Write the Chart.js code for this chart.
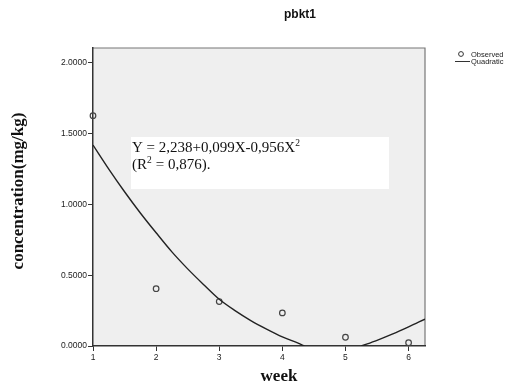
<!DOCTYPE html>
<html>
<head>
<meta charset="utf-8">
<script src="https://cdn.jsdelivr.net/npm/chart.js@4"></script>
<style>
  html, body { margin: 0; padding: 0; background: #fff; }
  #wrap { width: 509px; height: 387px; position: relative; }
</style>
</head>
<body>
<div id="wrap"><canvas id="chart" width="509" height="387"></canvas></div>
<script>
// Observed values (week, concentration mg/kg)
const weeks = [1, 2, 3, 4, 5, 6];
const observed = [1.628, 0.405, 0.314, 0.234, 0.062, 0.023];

// Quadratic curve (null where it dips below the axis)
const curveX = [1.0, 1.25, 1.5, 1.75, 2.0, 2.25, 2.5, 2.75, 3.0, 3.25, 3.5, 3.75, 4.0, 4.25, 4.35, 4.8, 5.25, 5.5, 5.75, 6.0, 6.26];
const curveY = [1.42, 1.25, 1.09, 0.94, 0.80, 0.665, 0.545, 0.435, 0.33, 0.25, 0.18, 0.12, 0.065, 0.02, 0.0, null, 0.0, 0.04, 0.085, 0.135, 0.19];

const yTicks = [0, 0.5, 1.0, 1.5, 2.0];
const xTicks = [1, 2, 3, 4, 5, 6];

const SERIF = '"Liberation Serif", "DejaVu Serif", serif';
const SANS = '"Liberation Sans", Arial, sans-serif';

function measure(ctx, font, txt) {
    const old = ctx.font;
    ctx.font = font;
    const w = ctx.measureText(txt).width;
    ctx.font = old;
    return w;
}

// Fond gris, cadre, titres, legende et encadre de l'equation
const decor = {
    id: 'decor',
    beforeDraw(chart) {
        const { ctx, chartArea: a } = chart;
        ctx.save();
        ctx.fillStyle = '#efefef';
        ctx.fillRect(a.left, a.top, a.right - a.left, a.bottom - a.top);
        ctx.strokeStyle = '#777';
        ctx.lineWidth = 1.2;
        ctx.beginPath();
        ctx.moveTo(a.left, a.top);
        ctx.lineTo(a.right, a.top);
        ctx.lineTo(a.right, a.bottom);
        ctx.stroke();
        // encadre blanc de l'equation
        ctx.fillStyle = '#fff';
        ctx.fillRect(131, 137, 258, 52);
        ctx.restore();
    },
    afterDraw(chart) {
        const { ctx } = chart;
        const eqFont = '15px ' + SERIF;
        const supFont = '9.5px ' + SERIF;
        ctx.save();
        ctx.fillStyle = '#111';
        // titre
        ctx.font = 'bold 12px ' + SANS;
        ctx.textAlign = 'center';
        ctx.textBaseline = 'middle';
        ctx.fillText('pbkt1', 300, 15);
        // titre axe x
        ctx.font = 'bold 17px ' + SERIF;
        ctx.fillText('week', 279, 377);
        // titre axe y
        ctx.save();
        ctx.translate(19, 191);
        ctx.rotate(-Math.PI / 2);
        ctx.font = 'bold 17px ' + SERIF;
        ctx.fillText('concentration(mg/kg)', 0, 0);
        ctx.restore();
        // equation
        ctx.textAlign = 'left';
        ctx.textBaseline = 'alphabetic';
        const x = 132;
        const l1 = 'Y = 2,238+0,099X-0,956X';
        ctx.font = eqFont;
        ctx.fillText(l1, x, 152);
        ctx.font = supFont;
        ctx.fillText('2', x + measure(ctx, eqFont, l1), 146);
        ctx.font = eqFont;
        ctx.fillText('(R', x, 169);
        const wR = measure(ctx, eqFont, '(R');
        ctx.font = supFont;
        ctx.fillText('2', x + wR, 163);
        ctx.font = eqFont;
        ctx.fillText(' = 0,876).', x + wR + 5, 169);
        // legende
        ctx.strokeStyle = '#333';
        ctx.lineWidth = 1;
        ctx.beginPath();
        ctx.arc(461, 54, 2.4, 0, Math.PI * 2);
        ctx.stroke();
        ctx.beginPath();
        ctx.moveTo(455, 61.5);
        ctx.lineTo(470, 61.5);
        ctx.stroke();
        ctx.font = '7.5px ' + SANS;
        ctx.fillStyle = '#222';
        ctx.textBaseline = 'middle';
        ctx.fillText('Observed', 471, 55);
        ctx.fillText('Quadratic', 471, 62);
        ctx.restore();
    }
};

const ctx = document.getElementById('chart').getContext('2d');
new Chart(ctx, {
    type: 'scatter',
    data: {
        datasets: [{
            label: 'Quadratic',
            type: 'line',
            data: curveX.map((x, i) => ({ x: x, y: curveY[i] })),
            borderColor: '#222',
            borderWidth: 1.4,
            pointRadius: 0,
            cubicInterpolationMode: 'monotone',
            spanGaps: false,
            fill: false
        }, {
            label: 'Observed',
            data: weeks.map((w, i) => ({ x: w, y: observed[i] })),
            pointStyle: 'circle',
            pointRadius: 2.8,
            borderColor: '#444',
            borderWidth: 1.2,
            backgroundColor: 'rgba(0,0,0,0)',
            clip: 6
        }]
    },
    options: {
        responsive: false,
        animation: false,
        layout: { padding: { top: 48, right: 84, left: 0, bottom: 0 } },
        plugins: { legend: { display: false }, tooltip: { enabled: false } },
        scales: {
            x: {
                type: 'linear',
                min: 1,
                max: 6.26,
                afterFit(s) { s.height = 41; },
                afterBuildTicks(s) { s.ticks = xTicks.map(v => ({ value: v })); },
                grid: { drawOnChartArea: false, drawTicks: true, tickLength: 5, color: '#333', tickWidth: 1 },
                border: { display: true, color: '#333', width: 1.5 },
                ticks: { color: '#222', font: { family: SANS, size: 8.5 }, padding: 2, maxRotation: 0, callback: v => String(v) }
            },
            y: {
                min: 0,
                max: 2.106,
                afterFit(s) { s.width = 93; },
                afterBuildTicks(s) { s.ticks = yTicks.map(v => ({ value: v })); },
                grid: { drawOnChartArea: false, drawTicks: true, tickLength: 5, color: '#333', tickWidth: 1 },
                border: { display: true, color: '#333', width: 1.5 },
                ticks: { color: '#222', font: { family: SANS, size: 8.5 }, padding: 1, callback: v => Number(v).toFixed(4) }
            }
        }
    },
    plugins: [decor]
});
</script>
</body>
</html>
